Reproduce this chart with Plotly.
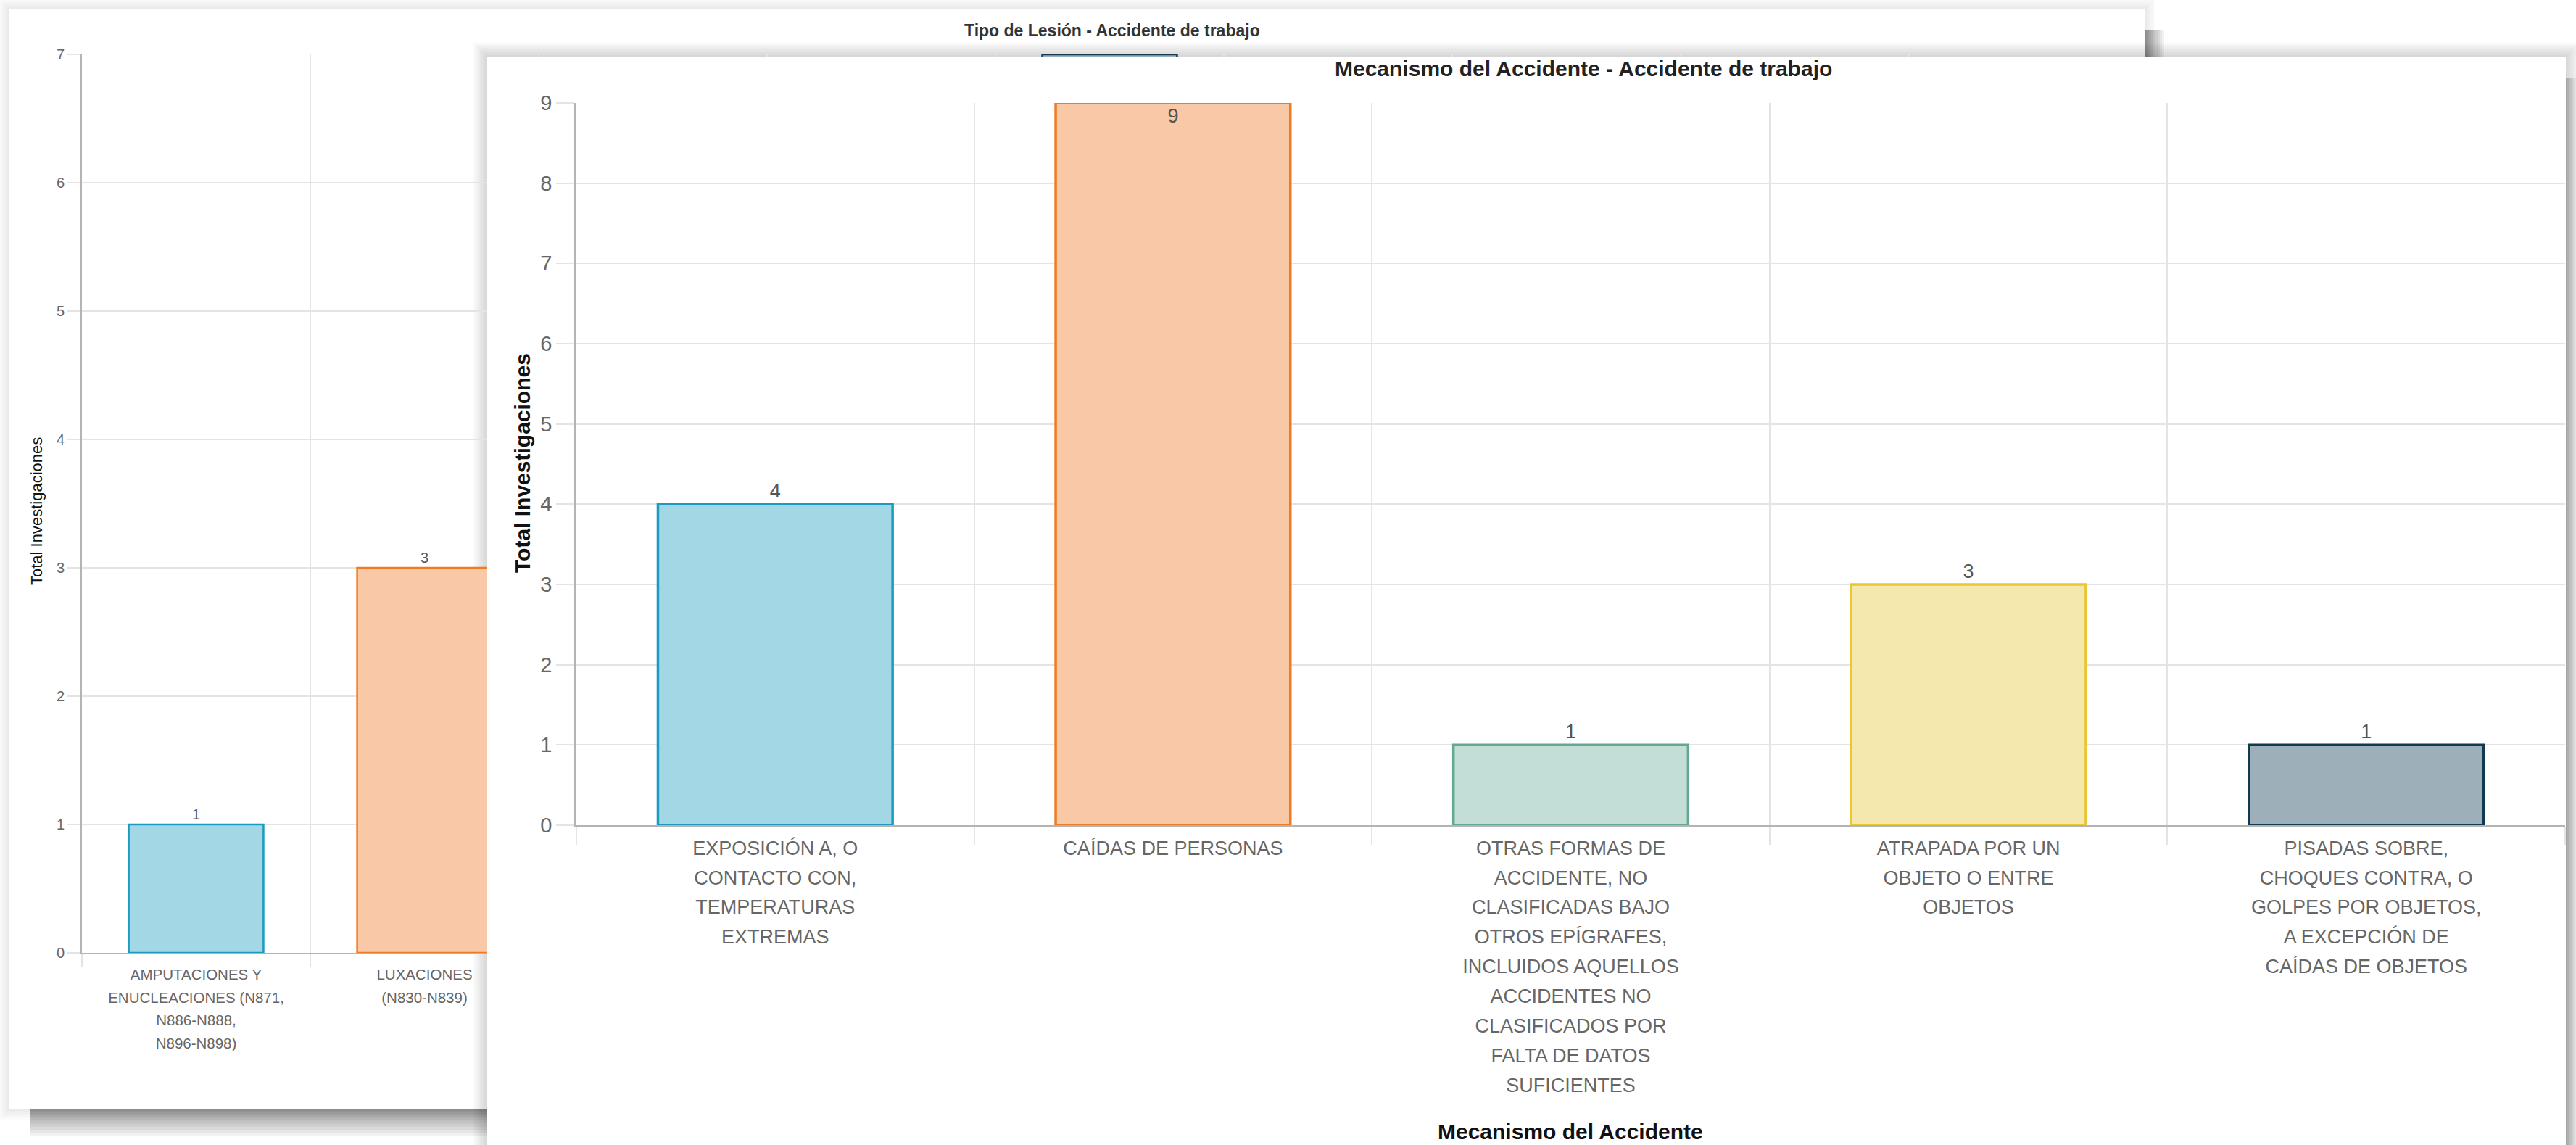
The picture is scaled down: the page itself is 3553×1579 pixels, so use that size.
import plotly.graph_objects as go

W, H = 3553, 1579
FONT = "Liberation Sans, Arial, Helvetica, sans-serif"

# ---------------- data: foreground chart (Mecanismo del Accidente) ----------------
fg_categories = [
    ["EXPOSICIÓN A, O", "CONTACTO CON,", "TEMPERATURAS", "EXTREMAS"],
    ["CAÍDAS DE PERSONAS"],
    ["OTRAS FORMAS DE", "ACCIDENTE, NO", "CLASIFICADAS BAJO", "OTROS EPÍGRAFES,",
     "INCLUIDOS AQUELLOS", "ACCIDENTES NO", "CLASIFICADOS POR", "FALTA DE DATOS",
     "SUFICIENTES"],
    ["ATRAPADA POR UN", "OBJETO O ENTRE", "OBJETOS"],
    ["PISADAS SOBRE,", "CHOQUES CONTRA, O", "GOLPES POR OBJETOS,", "A EXCEPCIÓN DE",
     "CAÍDAS DE OBJETOS"],
]
fg_values = [4, 9, 1, 3, 1]
fg_title = "Mecanismo del Accidente - Accidente de trabajo"
fg_xtitle = "Mecanismo del Accidente"
ytitle = "Total Investigaciones"

# ---------------- data: background chart (Tipo de Lesión), mostly hidden ----------------
bg_labels = [
    ["AMPUTACIONES Y", "ENUCLEACIONES (N871,", "N886-N888,", "N896-N898)"],
    ["LUXACIONES", "(N830-N839)"],
]
bg_index = [0, 1, 4]          # category slot of each visible bar
bg_values = [1, 3, 7]
bg_n_categories = 9
bg_title = "Tipo de Lesión - Accidente de trabajo"

# palette (border, fill)
border_colors = ["#1a9bc0", "#f07a22", "#62a893", "#e8c634", "#0f3a52"]
fill_colors = ["#a3d7e6", "#f9c8a6", "#c3ddd7", "#f5e8ad", "#9db0ba"]


def px_x(x):
    return x / W


def px_y(y):
    return 1 - y / H


def wrap(lines, size):
    return "<br>".join('<span style="font-size:%spx">%s</span>' % (size, l) for l in lines)


def label_positions(values):
    top = max(values)
    return ["inside" if v == top else "outside" for v in values]


fig = go.Figure()

# --- background chart (subplot xy)
fig.add_trace(go.Bar(
    x=bg_index, y=bg_values, xaxis="x", yaxis="y",
    marker=dict(color=[fill_colors[i % 5] for i in bg_index],
                line=dict(color=[border_colors[i % 5] for i in bg_index], width=2.5)),
    text=[str(v) for v in bg_values], textposition=label_positions(bg_values),
    textfont=dict(size=20, color="#555", family=FONT),
    insidetextfont=dict(size=20, color="#555", family=FONT),
    outsidetextfont=dict(size=20, color="#555", family=FONT),
    textangle=0, constraintext="none", cliponaxis=False,
    showlegend=False, hoverinfo="skip",
))

# --- cover panel of the foreground card (subplot x2y2, only its white background)
fig.add_trace(go.Scatter(x=[], y=[], xaxis="x2", yaxis="y2", showlegend=False, hoverinfo="skip"))

# --- foreground chart (subplot x3y3)
fg_x = [wrap(c, 27) for c in fg_categories]
fig.add_trace(go.Bar(
    x=fg_x, y=fg_values, xaxis="x3", yaxis="y3",
    marker=dict(color=fill_colors, line=dict(color=border_colors, width=3.5)),
    text=[str(v) for v in fg_values],
    textposition=label_positions(fg_values),
    textfont=dict(size=27, color="#555", family=FONT),
    insidetextfont=dict(size=27, color="#555", family=FONT),
    outsidetextfont=dict(size=27, color="#555", family=FONT),
    textangle=0, constraintext="none", cliponaxis=False,
    showlegend=False, hoverinfo="skip",
))

GRID = "#e4e4e4"
AXLINE = "#b4b4b4"

# ---------------- shapes: card shadows and background card ----------------
shapes = []


def card(x0, y0, x1, y1, glow, glow_a, dark, dark_a, fill=True):
    for e in range(2, glow + 1, 2):
        shapes.append(dict(type="rect", xref="paper", yref="paper",
                           x0=px_x(x0 - e), x1=px_x(x1 + e), y0=px_y(y1 + e), y1=px_y(y0 - e),
                           fillcolor="rgba(0,0,0,%s)" % glow_a, line=dict(width=0), layer="below"))
    for e in range(2, dark + 1, 3):
        shapes.append(dict(type="rect", xref="paper", yref="paper",
                           x0=px_x(x0 + 30), x1=px_x(x1 + e), y0=px_y(y1 + e * 1.4), y1=px_y(y0 + 30),
                           fillcolor="rgba(0,0,0,%s)" % dark_a, line=dict(width=0), layer="below"))
    if fill:
        shapes.append(dict(type="rect", xref="paper", yref="paper",
                           x0=px_x(x0), x1=px_x(x1), y0=px_y(y1), y1=px_y(y0),
                           fillcolor="white", line=dict(width=0), layer="below"))


card(12, 12, 2959, 1530, 14, 0.012, 28, 0.05)
card(672, 78, 3539, 1620, 20, 0.015, 14, 0.05, fill=False)

annotations = [
    dict(text="<b>%s</b>" % bg_title, x=px_x(1534), y=px_y(42), xref="paper", yref="paper",
         showarrow=False, xanchor="center", yanchor="middle",
         font=dict(size=23, color="#333", family=FONT)),
    dict(text=ytitle, x=px_x(50), y=px_y(705), xref="paper", yref="paper",
         showarrow=False, xanchor="center", yanchor="middle", textangle=-90,
         font=dict(size=22, color="#111", family=FONT)),
    dict(text="<b>%s</b>" % fg_title, x=px_x(2184), y=px_y(95), xref="paper", yref="paper",
         showarrow=False, xanchor="center", yanchor="middle",
         font=dict(size=30, color="#222", family=FONT)),
    dict(text="<b>%s</b>" % ytitle, x=px_x(720), y=px_y(639), xref="paper", yref="paper",
         showarrow=False, xanchor="center", yanchor="middle", textangle=-90,
         font=dict(size=30, color="#111", family=FONT)),
    dict(text="<b>%s</b>" % fg_xtitle, x=px_x(2166), y=px_y(1560), xref="paper", yref="paper",
         showarrow=False, xanchor="center", yanchor="middle",
         font=dict(size=30, color="#111", family=FONT)),
]

fig.update_layout(
    width=W, height=H, autosize=False,
    margin=dict(l=0, r=0, t=0, b=0, pad=0, autoexpand=False),
    paper_bgcolor="white", plot_bgcolor="white",
    font=dict(family=FONT),
    bargap=0.41,
    shapes=shapes, annotations=annotations,
    # background chart axes
    xaxis=dict(domain=[px_x(113), px_x(2948)], anchor="y", range=[-0.5, bg_n_categories - 0.5],
               automargin=False,
               tickmode="array", tickvals=bg_index[:len(bg_labels)],
               ticktext=[wrap(l, 20.5) for l in bg_labels],
               tickfont=dict(size=24.6, color="#666", family=FONT), tickangle=0,
               ticks="outside", ticklen=5, tickcolor="rgba(0,0,0,0)", showgrid=False,
               minor=dict(tickmode="linear", tick0=-0.5, dtick=1, ticks="outside", ticklen=18,
                          tickcolor=GRID, tickwidth=2, showgrid=True, gridcolor=GRID, gridwidth=2),
               showline=True, linecolor=AXLINE, linewidth=2, zeroline=False, fixedrange=True),
    yaxis=dict(domain=[px_y(1314), px_y(75)], anchor="x", range=[0, 7], dtick=1, tick0=0,
               automargin=False,
               ticks="outside", ticklen=18, tickcolor=GRID, tickwidth=2,
               tickfont=dict(size=20, color="#666", family=FONT),
               showgrid=True, gridcolor=GRID, gridwidth=2,
               showline=True, linecolor=AXLINE, linewidth=2, zeroline=False, fixedrange=True),
    # cover (foreground card)
    xaxis2=dict(domain=[px_x(672), px_x(3539)], anchor="y2", visible=False, range=[0, 1],
                automargin=False),
    yaxis2=dict(domain=[0, px_y(78)], anchor="x2", visible=False, range=[0, 1],
                automargin=False),
    # foreground chart axes
    xaxis3=dict(domain=[px_x(795), px_x(3538)], anchor="y3", type="category",
                automargin=False,
                tickson="boundaries", ticks="outside", ticklen=24, tickwidth=2, tickcolor=GRID,
                tickfont=dict(size=31.5, color="#666", family=FONT), tickangle=0,
                showgrid=True, gridcolor=GRID, gridwidth=2,
                showline=True, linecolor=AXLINE, linewidth=2.5, zeroline=False, fixedrange=True),
    yaxis3=dict(domain=[px_y(1138), px_y(142)], anchor="x3", range=[0, 9], dtick=1, tick0=0,
                automargin=False,
                ticks="outside", ticklen=25, tickwidth=2, tickcolor=GRID,
                tickfont=dict(size=29, color="#666", family=FONT),
                showgrid=True, gridcolor=GRID, gridwidth=2,
                showline=True, linecolor=AXLINE, linewidth=2.5, zeroline=False, fixedrange=True),
)

fig.write_html(
    "out.html",
    config={"displayModeBar": False},
    post_script="document.body.style.margin='0';document.body.style.overflow='hidden';",
)
